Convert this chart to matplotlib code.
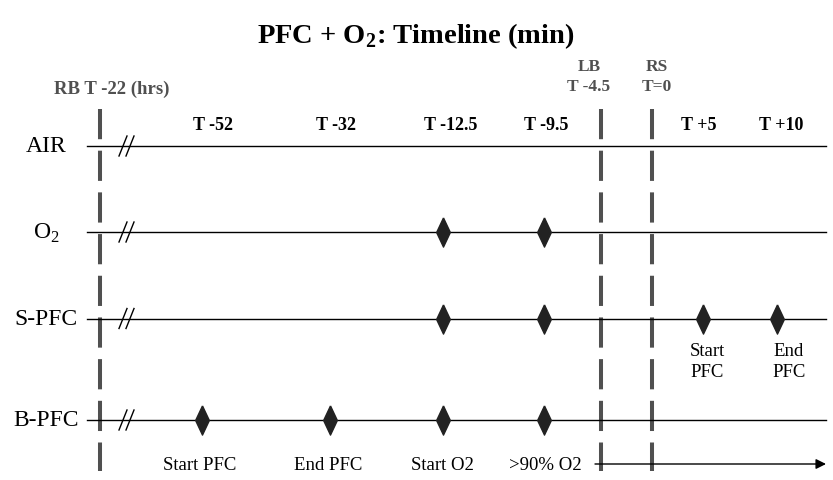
import matplotlib.pyplot as plt
from matplotlib.lines import Line2D

plt.rcParams['font.family'] = 'Liberation Serif'
plt.rcParams['mathtext.fontset'] = 'custom'
plt.rcParams['mathtext.rm'] = 'Liberation Serif'
plt.rcParams['mathtext.bf'] = 'Liberation Serif:bold'

# data
title = r'PFC + O$_\mathbf{2}$: Timeline (min)'
rows = ['AIR', r'O$_2$', 'S-PFC', 'B-PFC']
time_labels = ['T -52', 'T -32', 'T -12.5', 'T -9.5', 'T +5', 'T +10']
# which time points have a diamond on each row
events = {
    'AIR': [],
    r'O$_2$': [2, 3],
    'S-PFC': [2, 3, 4, 5],
    'B-PFC': [0, 1, 2, 3],
}
bottom_notes = ['Start PFC', 'End PFC', 'Start O2', '>90% O2']
spfc_notes = ['Start\nPFC', 'End\nPFC']
phase_labels = ['RB T -22 (hrs)', 'LB\nT -4.5', 'RS\nT=0']

# layout (pixel coords of the 833x481 canvas)
row_y = [147, 233, 319.5, 421]
row_label_x = 46
line_x0, line_x1 = 87, 826
marker_x = [202, 330, 443, 544, 703, 777]
time_label_x = [213, 336, 451, 546, 699, 781]
note_x = [200, 328, 442, 545]
phase_x = [100, 601, 652]
phase_label_pos = [(112, 89), (589, 77), (657, 77)]
dash_top, dash_bot = 110, 472
gray = '#505050'

fig = plt.figure(figsize=(8.33, 4.81), dpi=100)
ax = fig.add_axes([0, 0, 1, 1])
ax.set_xlim(0, 833)
ax.set_ylim(481, 0)
ax.axis('off')

ax.text(416, 36, title, ha='center', va='center', fontsize=20.5, fontweight='bold')

# dashed phase lines
for x in phase_x:
    ax.plot([x, x], [dash_top, dash_bot], color=gray, lw=2.9,
            linestyle=(0, (7.5, 2.85)), solid_capstyle='butt', zorder=1)

for (x, y), lab in zip(phase_label_pos, phase_labels):
    fs = 13.5 if '\n' not in lab else 12.5
    ax.text(x, y, lab, ha='center', va='center', fontsize=fs,
            fontweight='bold', color=gray, linespacing=1.3)

# row lines, labels, break marks and diamonds
diamond = [(0, 1), (0.47, 0), (0, -1), (-0.47, 0), (0, 1)]
for y, name in zip(row_y, rows):
    ax.plot([line_x0, line_x1], [y, y], color='black', lw=1.0, zorder=2)
    ax.text(row_label_x, y, name, ha='center', va='center', fontsize=17)
    for dx in (0, 7):
        ax.add_line(Line2D([119 + dx, 127 + dx], [y + 10, y - 10], color='black', lw=1.0))
    xs = [marker_x[i] for i in events[name]]
    if xs:
        ax.plot(xs, [y] * len(xs), linestyle='none', marker=diamond,
                markersize=21, color='#222222', zorder=3)

for x, lab in zip(time_label_x, time_labels):
    ax.text(x, 125, lab, ha='center', va='center', fontsize=13, fontweight='bold')

for x, lab in zip(note_x, bottom_notes):
    ax.text(x, 466, lab, ha='center', va='center', fontsize=13.5)

for i, lab in enumerate(spfc_notes):
    ax.text(time_label_x[4 + i] + 8, 362, lab, ha='center', va='center',
            fontsize=13.5, linespacing=1.25)

ax.annotate('', xy=(826, 465), xytext=(595, 465),
            arrowprops=dict(arrowstyle='-|>', color='black', lw=1.0,
                            mutation_scale=15, shrinkA=0, shrinkB=0))

fig.savefig('out.png', dpi=100)
